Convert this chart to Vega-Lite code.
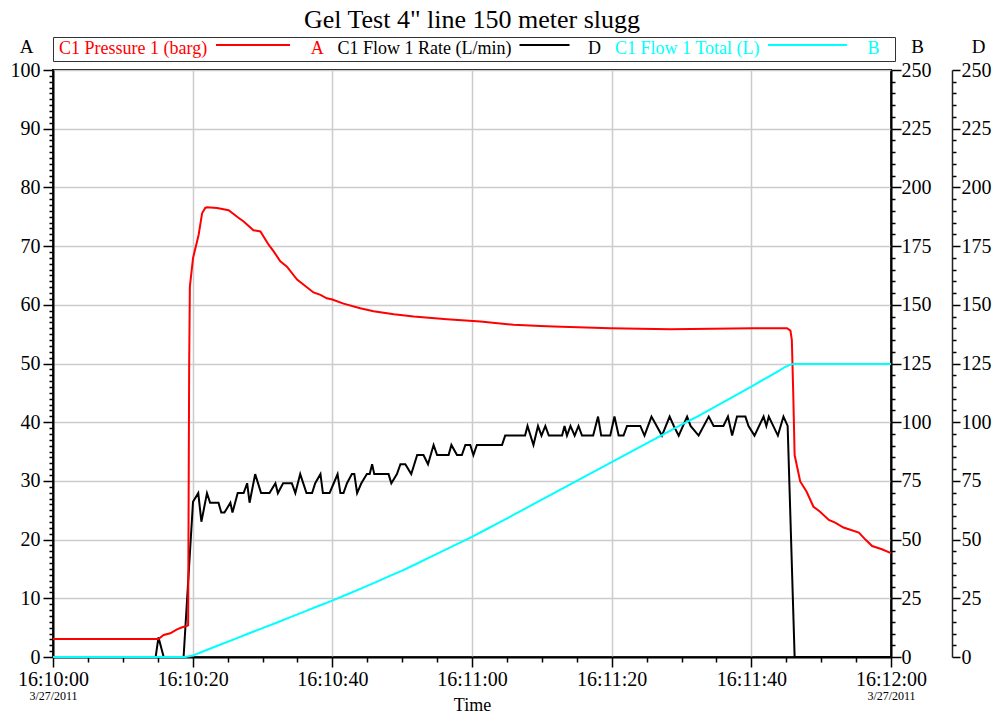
{
  "$schema": "https://vega.github.io/schema/vega-lite/v6.json",
  "width": 838,
  "height": 587,
  "autosize": {"type": "none"},
  "padding": {"left": 53, "top": 70, "right": 104, "bottom": 60},
  "background": "white",
  "config": {
    "font": "Liberation Serif",
    "view": {"stroke": "black", "strokeWidth": 2},
    "axis": {
      "labelFont": "Liberation Serif", "titleFont": "Liberation Serif",
      "labelColor": "black", "titleColor": "black", "tickColor": "black", "domainColor": "black",
      "labelFontSize": 20, "titleFontSize": 19, "titleFontWeight": "normal",
      "tickWidth": 1.5, "domainWidth": 2, "gridColor": "#cccccc", "gridWidth": 1.5,
      "labelFlush": false, "labelOverlap": false
    }
  },
  "title": {"text": "Gel Test 4\" line 150 meter slugg", "font": "Liberation Serif", "fontSize": 26, "fontWeight": "normal", "color": "black", "anchor": "middle", "offset": 4},
  "datasets": {
    "rate": [
      {"t":0,"v":0},{"t":14.7,"v":0},{"t":15.1,"v":8.4},{"t":15.85,"v":0},{"t":18.7,"v":0},{"t":20.05,"v":66.1},{"t":20.8,"v":69.8},{"t":21.25,"v":57.6},{"t":22.05,"v":69.8},{"t":22.5,"v":65.7},{"t":23.7,"v":65.7},{"t":24.1,"v":61.5},{"t":24.55,"v":61.5},{"t":25.4,"v":65.7},{"t":25.7,"v":61.5},{"t":26.45,"v":69.8},{"t":27.3,"v":69.8},{"t":27.8,"v":74},{"t":28.15,"v":65.7},{"t":28.95,"v":77.9},{"t":29.8,"v":69.8},{"t":31.0,"v":69.8},{"t":31.85,"v":74},{"t":32.2,"v":69.8},{"t":32.95,"v":74},{"t":34.2,"v":74},{"t":34.7,"v":69.8},{"t":35.4,"v":77.9},{"t":36.3,"v":69.8},{"t":37.1,"v":69.8},{"t":37.55,"v":74},{"t":38.3,"v":77.9},{"t":38.65,"v":69.8},{"t":39.6,"v":69.8},{"t":40.2,"v":74},{"t":40.75,"v":77.9},{"t":41.15,"v":69.8},{"t":41.6,"v":69.8},{"t":42.1,"v":74},{"t":42.8,"v":77.9},{"t":43.15,"v":77.9},{"t":43.55,"v":69.8},{"t":44.15,"v":74},{"t":44.95,"v":77.9},{"t":45.35,"v":77.9},{"t":45.7,"v":82.1},{"t":46.0,"v":77.9},{"t":48.05,"v":77.9},{"t":48.45,"v":74},{"t":49.25,"v":77.9},{"t":49.75,"v":82.1},{"t":50.45,"v":82.1},{"t":51.3,"v":77.9},{"t":52.15,"v":86},{"t":53.05,"v":86},{"t":53.7,"v":82.1},{"t":54.5,"v":90.3},{"t":55.0,"v":86},{"t":56.65,"v":86},{"t":57.05,"v":90.3},{"t":57.85,"v":86},{"t":58.55,"v":86},{"t":59.05,"v":90.3},{"t":59.75,"v":90.3},{"t":60.2,"v":86},{"t":60.7,"v":90.3},{"t":64.3,"v":90.3},{"t":64.75,"v":94.3},{"t":67.6,"v":94.3},{"t":67.95,"v":98.4},{"t":68.8,"v":90.3},{"t":69.45,"v":98.4},{"t":69.95,"v":94.3},{"t":70.5,"v":98.4},{"t":71.0,"v":94.3},{"t":72.9,"v":94.3},{"t":73.25,"v":98.4},{"t":73.6,"v":94.3},{"t":74.1,"v":98.4},{"t":74.7,"v":94.3},{"t":75.25,"v":98.4},{"t":75.75,"v":94.3},{"t":77.35,"v":94.3},{"t":78.05,"v":102.4},{"t":78.5,"v":94.3},{"t":79.8,"v":94.3},{"t":80.4,"v":102.4},{"t":81.0,"v":94.3},{"t":81.7,"v":94.3},{"t":82.2,"v":98.4},{"t":84.1,"v":98.4},{"t":84.7,"v":94.3},{"t":85.7,"v":102.4},{"t":87.2,"v":94.3},{"t":88.3,"v":102.4},{"t":88.9,"v":98.4},{"t":89.6,"v":94.3},{"t":90.8,"v":102.4},{"t":91.3,"v":98.4},{"t":92.45,"v":94.3},{"t":93.9,"v":102.4},{"t":94.6,"v":98.4},{"t":96.0,"v":98.4},{"t":96.65,"v":102.4},{"t":97.25,"v":94.3},{"t":97.95,"v":102.4},{"t":99.15,"v":102.4},{"t":99.6,"v":98.4},{"t":100.45,"v":94.3},{"t":101.75,"v":102.4},{"t":102.15,"v":98.4},{"t":102.5,"v":102.4},{"t":103.8,"v":94.3},{"t":104.6,"v":102.4},{"t":105.2,"v":98.4},{"t":106.2,"v":0},{"t":120,"v":0}
    ],
    "pres": [
      {"t":0,"v":3.07},{"t":15.1,"v":3.07},{"t":15.85,"v":3.75},{"t":16.8,"v":4.04},{"t":17.75,"v":4.72},{"t":18.5,"v":5.06},{"t":19.2,"v":5.3},{"t":19.35,"v":5.4},{"t":19.5,"v":50},{"t":19.6,"v":63.1},{"t":20.05,"v":67.95},{"t":20.85,"v":71.9},{"t":21.35,"v":75.6},{"t":21.8,"v":76.5},{"t":22.05,"v":76.6},{"t":23.5,"v":76.5},{"t":25.15,"v":76.1},{"t":26.6,"v":74.8},{"t":27.3,"v":74.2},{"t":28.7,"v":72.7},{"t":29.7,"v":72.5},{"t":30.9,"v":70.2},{"t":31.6,"v":69.1},{"t":32.55,"v":67.4},{"t":33.5,"v":66.5},{"t":34.95,"v":64.3},{"t":35.9,"v":63.4},{"t":37.3,"v":62.1},{"t":38.3,"v":61.7},{"t":39.2,"v":61.1},{"t":40.0,"v":60.9},{"t":41.6,"v":60.2},{"t":44.0,"v":59.4},{"t":45.9,"v":58.9},{"t":48.8,"v":58.4},{"t":51.65,"v":58.0},{"t":56.4,"v":57.55},{"t":61.2,"v":57.15},{"t":65.95,"v":56.6},{"t":69.8,"v":56.4},{"t":71.7,"v":56.3},{"t":79.8,"v":56.0},{"t":88.4,"v":55.85},{"t":100.3,"v":56.0},{"t":105.1,"v":56.0},{"t":105.6,"v":55.6},{"t":105.8,"v":54},{"t":106.0,"v":45},{"t":106.2,"v":34.4},{"t":107.0,"v":29.9},{"t":107.9,"v":28.2},{"t":108.9,"v":25.6},{"t":109.8,"v":24.8},{"t":111.1,"v":23.35},{"t":112.0,"v":22.9},{"t":113.2,"v":22.05},{"t":115.4,"v":21.2},{"t":116.3,"v":20.05},{"t":117.3,"v":18.9},{"t":118.7,"v":18.35},{"t":120,"v":17.7}
    ],
    "tot": [
      {"t":0,"v":0},{"t":19,"v":0},{"t":20,"v":0.6},{"t":22,"v":3},{"t":24,"v":5.3},{"t":26,"v":7.6},{"t":28,"v":10},{"t":30,"v":12.3},{"t":32,"v":14.6},{"t":34,"v":17},{"t":36,"v":19.3},{"t":38,"v":21.7},{"t":40,"v":24},{"t":42,"v":26.5},{"t":44,"v":29},{"t":46,"v":31.6},{"t":48,"v":34.2},{"t":50,"v":36.8},{"t":52,"v":39.6},{"t":54,"v":42.5},{"t":56,"v":45.4},{"t":58,"v":48.3},{"t":60,"v":51.2},{"t":62,"v":54.3},{"t":64,"v":57.4},{"t":66,"v":60.6},{"t":68,"v":63.8},{"t":70,"v":67},{"t":72,"v":70.2},{"t":74,"v":73.4},{"t":76,"v":76.6},{"t":78,"v":79.8},{"t":80,"v":83},{"t":82,"v":86.2},{"t":84,"v":89.4},{"t":86,"v":92.6},{"t":88,"v":95.8},{"t":90,"v":99},{"t":92,"v":102},{"t":94,"v":105.3},{"t":96,"v":108.6},{"t":98,"v":111.9},{"t":100,"v":115.2},{"t":102,"v":118.6},{"t":103,"v":120.3},{"t":104,"v":122},{"t":104.8,"v":123.5},{"t":105.5,"v":124.4},{"t":106,"v":124.8},{"t":120,"v":124.8}
    ]
  },
  "resolve": {"scale": {"x": "independent", "y": "independent"}},
  "layer": [
    {
      "data": {"name": "rate"},
      "mark": {"type": "line", "strokeWidth": 2},
      "encoding": {
        "x": {"field": "t", "type": "quantitative", "scale": {"domain": [0, 120], "nice": false, "zero": false}, "axis": null},
        "y": {"field": "v", "type": "quantitative", "scale": {"domain": [0, 250], "nice": false},
          "axis": {
            "orient": "right", "offset": 61,
            "values": [0,5,10,15,20,25,30,35,40,45,50,55,60,65,70,75,80,85,90,95,100,105,110,115,120,125,130,135,140,145,150,155,160,165,170,175,180,185,190,195,200,205,210,215,220,225,230,235,240,245,250],
            "labelExpr": "datum.value % 25 === 0 ? datum.label : ''",
            "labelFont": "Liberation Serif", "labelFontSize": 20, "titleFont": "Liberation Serif",
            "tickSize": {"condition": {"test": "datum.value % 25 === 0", "value": 8}, "value": 4},
            "labelPadding": 1, "grid": false, "domainWidth": 1.5, "domainColor": "#222",
            "title": "D", "titleAngle": 0, "titleX": 26, "titleY": -18, "titleAlign": "center", "titleBaseline": "alphabetic"
          }
        },
        "color": {
          "datum": "C1 Flow 1 Rate (L/min)", "type": "nominal",
          "scale": {"domain": ["C1 Pressure 1 (barg)", "C1 Flow 1 Rate (L/min)", "C1 Flow 1 Total (L)"], "range": ["#ff0000", "#000000", "#00ffff"]},
          "legend": {
            "orient": "none", "legendX": 0, "legendY": -33, "direction": "horizontal", "title": null,
            "padding": 2, "strokeColor": "#333333", "fillColor": "white", "columnPadding": 9.5,
            "labelFont": "Liberation Serif", "labelFontSize": 18, "labelLimit": 500,
            "symbolType": "stroke", "symbolStrokeWidth": 2, "clipHeight": 20,
            "labelExpr": "datum.value === 'C1 Pressure 1 (barg)' ? 'C1 Pressure 1 (barg)\u00a0\u00a0\u00a0\u00a0\u00a0\u00a0\u00a0\u00a0\u00a0\u00a0\u00a0\u00a0\u00a0\u00a0\u00a0\u00a0\u00a0\u00a0\u00a0\u00a0\u00a0\u00a0\u00a0A' : datum.value === 'C1 Flow 1 Rate (L/min)' ? 'C1 Flow 1 Rate (L/min)\u00a0\u00a0\u00a0\u00a0\u00a0\u00a0\u00a0\u00a0\u00a0\u00a0\u00a0\u00a0\u00a0\u00a0\u00a0\u00a0\u00a0D' : 'C1 Flow 1 Total (L)\u00a0\u00a0\u00a0\u00a0\u00a0\u00a0\u00a0\u00a0\u00a0\u00a0\u00a0\u00a0\u00a0\u00a0\u00a0\u00a0\u00a0\u00a0\u00a0\u00a0\u00a0\u00a0\u00a0\u00a0B\u2800'",
            "encode": {
              "symbols": {"update": {
                "x": {"signal": "datum.value === 'C1 Pressure 1 (barg)' ? 198 : datum.value === 'C1 Flow 1 Rate (L/min)' ? 211 : 196.5"},
                "y": {"value": 6},
                "size": {"signal": "datum.value === 'C1 Pressure 1 (barg)' ? 5476 : datum.value === 'C1 Flow 1 Rate (L/min)' ? 2500 : 6241"},
                "strokeWidth": {"value": 2}
              }},
              "labels": {"update": {
                "x": {"value": 4},
                "y": {"value": 10},
                "baseline": {"value": "middle"},
                "fill": {"signal": "datum.value === 'C1 Pressure 1 (barg)' ? '#ff0000' : datum.value === 'C1 Flow 1 Rate (L/min)' ? '#000000' : '#00ffff'"}
              }}
            }
          }
        }
      }
    },
    {
      "data": {"name": "pres"},
      "mark": {"type": "line", "strokeWidth": 2},
      "encoding": {
        "x": {"field": "t", "type": "quantitative", "scale": {"domain": [0, 120], "nice": false, "zero": false},
          "axis": {
            "orient": "bottom",
            "values": [0,5,10,15,20,25,30,35,40,45,50,55,60,65,70,75,80,85,90,95,100,105,110,115,120],
            "labelExpr": "datum.value % 20 === 0 ? timeFormat(datetime(2011, 2, 27, 16, 10, datum.value), '%H:%M:%S') : ''",
            "labelFont": "Liberation Serif", "labelFontSize": 20, "titleFont": "Liberation Serif",
            "tickSize": {"condition": {"test": "datum.value % 20 === 0", "value": 10}, "value": 5},
            "gridOpacity": {"condition": {"test": "datum.value % 20 === 0", "value": 1}, "value": 0},
            "grid": true, "labelPadding": 2,
            "title": "Time", "titleFontSize": 18, "titlePadding": 7
          }
        },
        "y": {"field": "v", "type": "quantitative", "scale": {"domain": [0, 100], "nice": false},
          "axis": {
            "orient": "left",
            "values": [0,1,2,3,4,5,6,7,8,9,10,11,12,13,14,15,16,17,18,19,20,21,22,23,24,25,26,27,28,29,30,31,32,33,34,35,36,37,38,39,40,41,42,43,44,45,46,47,48,49,50,51,52,53,54,55,56,57,58,59,60,61,62,63,64,65,66,67,68,69,70,71,72,73,74,75,76,77,78,79,80,81,82,83,84,85,86,87,88,89,90,91,92,93,94,95,96,97,98,99,100],
            "labelExpr": "datum.value % 10 === 0 ? datum.label : ''",
            "labelFont": "Liberation Serif", "labelFontSize": 20, "titleFont": "Liberation Serif",
            "tickSize": {"condition": {"test": "datum.value % 10 === 0", "value": 10}, "value": 4},
            "gridOpacity": {"condition": {"test": "datum.value % 10 === 0", "value": 1}, "value": 0},
            "grid": true, "labelPadding": 3,
            "title": "A", "titleAngle": 0, "titleX": -27, "titleY": -18, "titleAlign": "center", "titleBaseline": "alphabetic"
          }
        },
        "color": {"datum": "C1 Pressure 1 (barg)", "type": "nominal", "scale": {"domain": ["C1 Pressure 1 (barg)", "C1 Flow 1 Rate (L/min)", "C1 Flow 1 Total (L)"], "range": ["#ff0000", "#000000", "#00ffff"]}}
      }
    },
    {
      "data": {"name": "tot"},
      "mark": {"type": "line", "strokeWidth": 2},
      "encoding": {
        "x": {"field": "t", "type": "quantitative", "scale": {"domain": [0, 120], "nice": false, "zero": false},
          "axis": {
            "orient": "bottom", "values": [0, 120], "labelExpr": "'3/27/2011'", "labelFont": "Liberation Serif", "labelFontSize": 12,
            "ticks": false, "tickSize": 0, "domain": false, "grid": false, "labelPadding": 33, "title": null
          }
        },
        "y": {"field": "v", "type": "quantitative", "scale": {"domain": [0, 250], "nice": false},
          "axis": {
            "orient": "right",
            "values": [0,5,10,15,20,25,30,35,40,45,50,55,60,65,70,75,80,85,90,95,100,105,110,115,120,125,130,135,140,145,150,155,160,165,170,175,180,185,190,195,200,205,210,215,220,225,230,235,240,245,250],
            "labelExpr": "datum.value % 25 === 0 ? datum.label : ''",
            "labelFont": "Liberation Serif", "labelFontSize": 20, "titleFont": "Liberation Serif",
            "tickSize": {"condition": {"test": "datum.value % 25 === 0", "value": 10}, "value": 4},
            "labelPadding": 0, "grid": false,
            "title": "B", "titleAngle": 0, "titleX": 26, "titleY": -18, "titleAlign": "center", "titleBaseline": "alphabetic"
          }
        },
        "color": {"datum": "C1 Flow 1 Total (L)", "type": "nominal", "scale": {"domain": ["C1 Pressure 1 (barg)", "C1 Flow 1 Rate (L/min)", "C1 Flow 1 Total (L)"], "range": ["#ff0000", "#000000", "#00ffff"]}}
      }
    }
  ]
}
